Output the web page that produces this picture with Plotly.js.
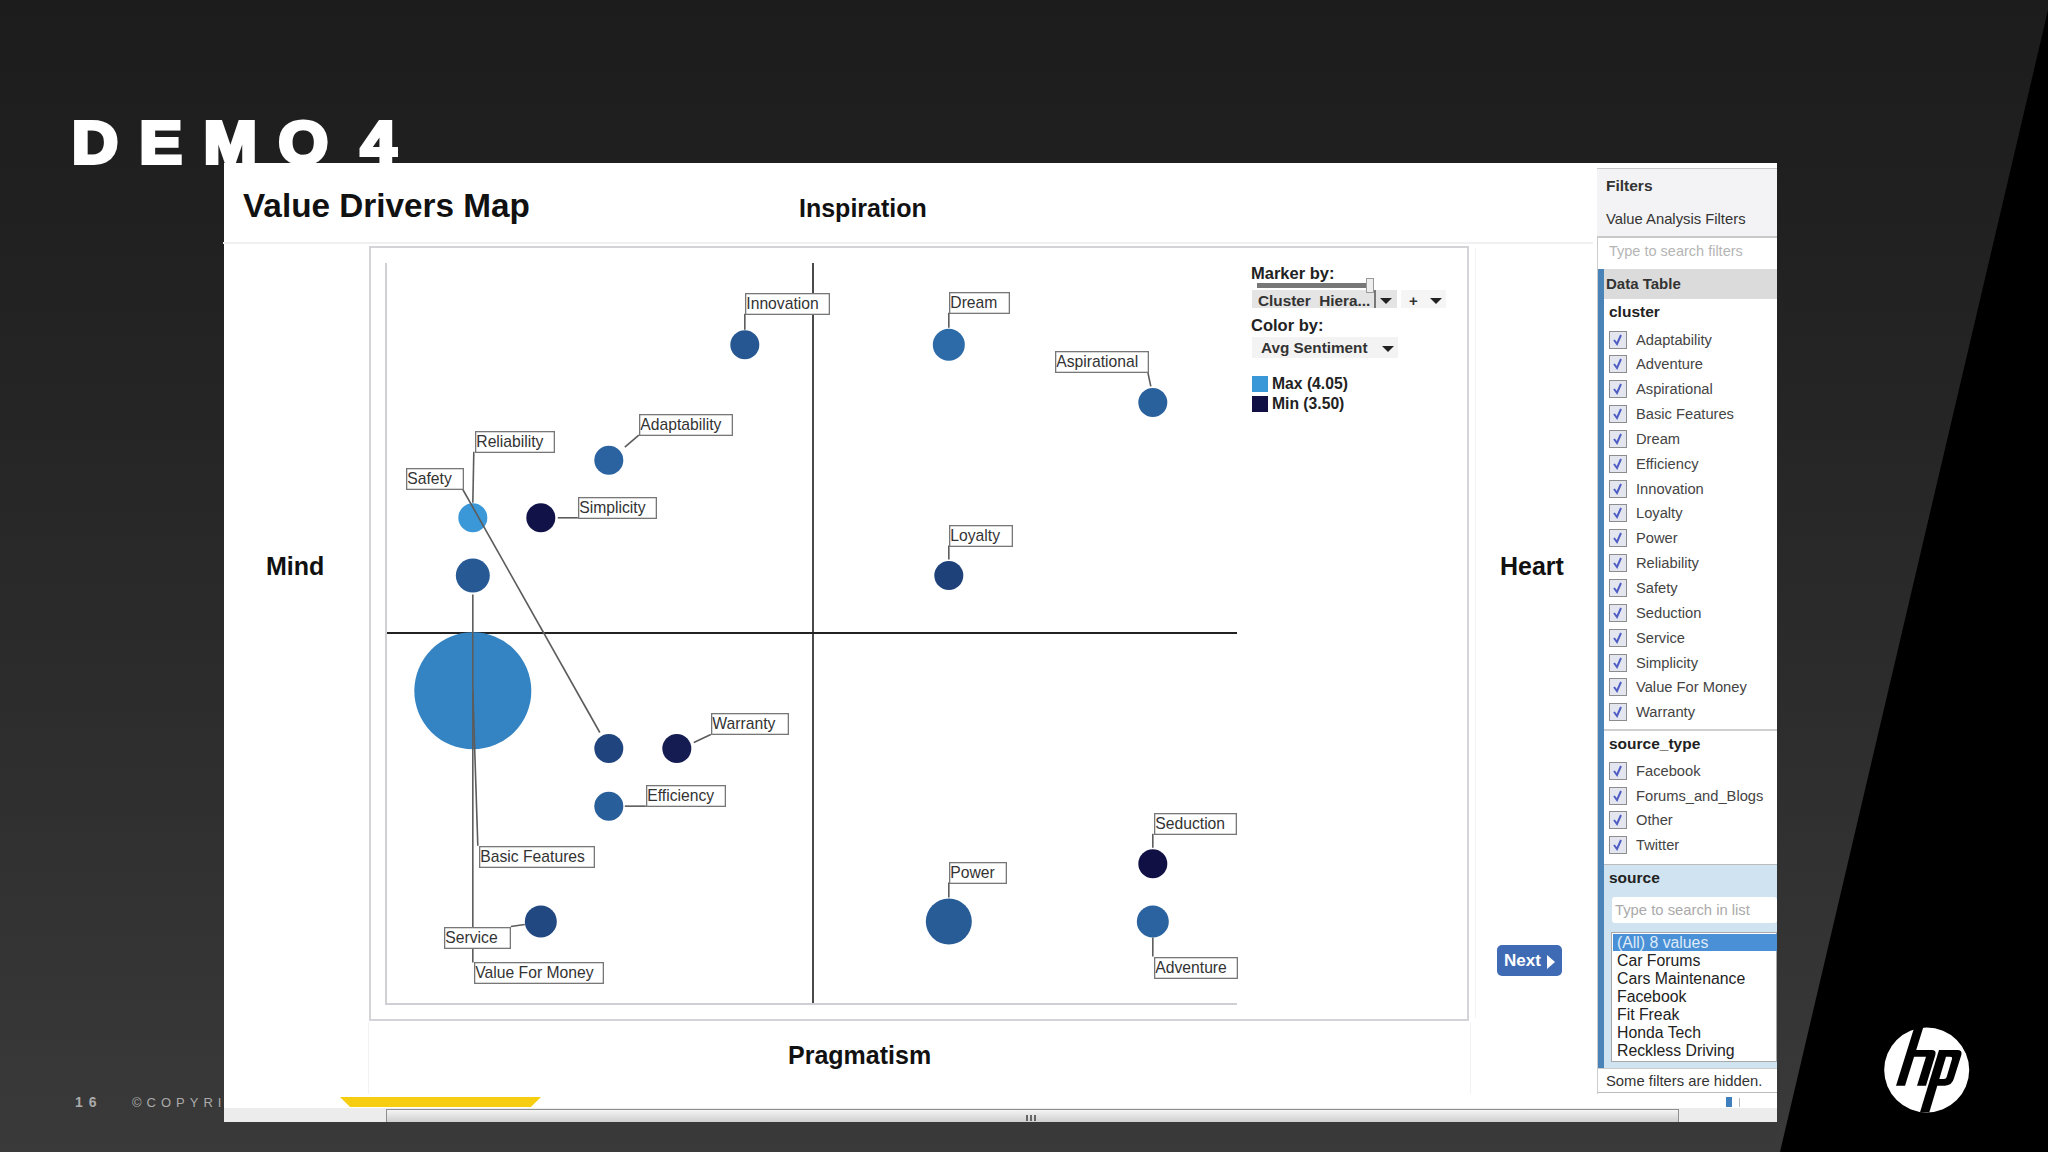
<!DOCTYPE html>
<html>
<head>
<meta charset="utf-8">
<script src="https://cdn.plot.ly/plotly-3.0.1.min.js"></script>
<style>
html,body{margin:0;padding:0;width:2048px;height:1152px;overflow:hidden;background:#262626;font-family:"Liberation Sans",Arial,sans-serif}
.abs{position:absolute}
.t{position:absolute;white-space:nowrap;line-height:1;transform:translateY(-50%);color:#222}
#bg{left:0;top:0;width:2048px;height:1152px;background:linear-gradient(#1c1c1c 0%,#222 25%,#2c2c2c 60%,#3a3a3a 100%)}
#wedge{left:0;top:0;width:2048px;height:1152px;background:#000;clip-path:polygon(2048px 10px,2048px 1152px,1780px 1152px)}
#win{left:223.5px;top:163px;width:1553.5px;height:959px;background:#fff}
#plot{left:0;top:0;width:2048px;height:1152px}
</style>
</head>
<body>
<div id="bg" class="abs"></div>
<div id="wedge" class="abs"></div>
<div class="t" style="left:72px;top:143px;font:bold 59px 'Liberation Sans';letter-spacing:20px;word-spacing:-26px;color:#fff;-webkit-text-stroke:4px #fff;transform:translateY(-50%) scaleX(1.08);transform-origin:left center">DEMO 4</div>
<div class="t" style="left:75px;top:1102px;font:bold 14px 'Liberation Sans';letter-spacing:6px;color:#aaa">16</div>
<div class="t" style="left:132px;top:1102px;font:13px 'Liberation Sans';letter-spacing:5px;color:#aaa">©COPYRIGHT</div>
<div id="win" class="abs"></div>
<div class="abs" style="left:223px;top:242px;width:1370px;height:2px;background:#f0f0f2"></div>
<div class="abs" style="left:369px;top:245.5px;width:1096px;height:771.5px;border:2px solid #d4d4d8;box-sizing:content-box"></div>
<div class="abs" style="left:368px;top:1022px;width:1px;height:72px;background:#f2f2f2"></div>
<div class="abs" style="left:1470px;top:1022px;width:1px;height:72px;background:#f2f2f2"></div>
<div class="abs" style="left:1475px;top:248px;width:1px;height:770px;background:#f2f2f2"></div>
<div id="plot" class="abs"></div>
<div id="chrome"></div>
<svg class="abs" style="left:0;top:0" width="2048" height="1152">
  <circle cx="1926.7" cy="1070" r="42.5" fill="#fff"/>
  <g transform="translate(1870,1015) scale(0.3333)" fill="#000">
    <path d="M135 30 L162 30 L105 212 L78 212Z"/>
    <path d="M125 105 L185 105 Q200 105 196 120 L168 212 L141 212 L168 125 L120 125Z"/>
    <path d="M207 105 L234 105 L178 292 L150 292Z"/>
    <path d="M225 105 L262 105 Q278 105 274 120 L252 190 Q246 212 225 212 L178 212 L184 192 L222 192 Q228 192 230 186 L246 132 Q248 125 240 125 L220 125Z"/>
  </g>
</svg>
<script>
// ---- chart data ----
const clusters = ["Adaptability","Adventure","Aspirational","Basic Features","Dream","Efficiency","Innovation","Loyalty","Power","Reliability","Safety","Seduction","Service","Simplicity","Value For Money","Warranty"];
const mindHeart = [-3,5,5,-5,2,-3,-1,2,2,-5,-3,5,-4,-4,-5,-2];
const pragmatismInspiration = [3,-5,4,-1,5,-3,5,1,-5,2,-2,-4,-5,2,1,-2];
const clusterSize = [29,32,29,117,32,29,29,29,46,29,29,29,32,29,34,29];
const avgSentiment = [3.84,3.84,3.83,3.97,3.87,3.82,3.79,3.70,3.81,4.05,3.71,3.50,3.73,3.51,3.80,3.55];
const sourceTypes = ["Facebook","Forums_and_Blogs","Other","Twitter"];
const sourceValues = ["(All) 8 values","Car Forums","Cars Maintenance","Facebook","Fit Freak","Honda Tech","Reckless Driving"];
const quadrantLabels = ["Inspiration","Mind","Heart","Pragmatism"];

// ---- label box placement, pixels relative to each marker: [dx, dy, width] ----
const boxOffset = {
  "Adaptability":[30,-46,94],"Adventure":[1,35,84],"Aspirational":[-98,-51,94],"Basic Features":[6,155,116],
  "Dream":[0,-53,61],"Efficiency":[37,-21,80],"Innovation":[0,-52,85],"Loyalty":[0,-50,64],"Power":[0,-60,58],
  "Reliability":[2,-87,80],"Safety":[-203,-280,58],"Seduction":[1,-51,83],"Service":[-97,5,67],"Simplicity":[37,-21,79],
  "Value For Money":[1,387,130],"Warranty":[34,-35,78]};
// ---- leader lines, pixels relative to each marker: [dx0, dy0, dx1, dy1] ----
const leaderOffset = {
  "Adaptability":[30,-25,16,-13],"Adventure":[0,16,0,35],"Aspirational":[-5,-30,-2,-16],"Basic Features":[5,155,0,0],
  "Dream":[0,-32,0,-17],"Efficiency":[16,0,37,0],"Innovation":[0,-31,0,-15],"Loyalty":[0,-30,0,-16],"Power":[0,-39,0,-24],
  "Reliability":[1,-66,0,-15],"Safety":[-146,-259,-9,-16],"Seduction":[0,-30,0,-16],"Service":[-30,5,-16,3],"Simplicity":[17,0,37,0],
  "Value For Money":[0,387,0,19],"Warranty":[34,-14,17,-6]};

const W = 2048, H = 1152, FONT = "Liberation Sans, Arial, sans-serif";
const shapes = clusters.map((c,i)=>{
  const o = leaderOffset[c];
  return {type:"line",layer:"above",xref:"x",yref:"y",xsizemode:"pixel",ysizemode:"pixel",
    xanchor:mindHeart[i],yanchor:pragmatismInspiration[i],
    x0:o[0],x1:o[2],y0:-o[1],y1:-o[3],line:{color:"#5c5c5c",width:1.6}};
});
const labelAnn = clusters.map((c,i)=>{
  const b = boxOffset[c];
  return {xref:"x",yref:"y",x:mindHeart[i],y:pragmatismInspiration[i],xanchor:"left",yanchor:"top",
    xshift:b[0],yshift:-b[1],text:c,showarrow:false,align:"left",width:b[2]-3,height:19,
    font:{family:FONT,size:15.7,color:"#333"},bgcolor:"#fff",bordercolor:"#777",borderwidth:1.3,borderpad:0};
});
const quadPos = [[863,208],[295,566],[1532,566],[859,1055]];
const quadAnn = quadrantLabels.map((q,i)=>({xref:"paper",yref:"paper",x:quadPos[i][0]/W,y:1-quadPos[i][1]/H,
  xanchor:"center",yanchor:"middle",showarrow:false,text:"<b>"+q+"</b>",font:{family:FONT,size:25,color:"#111"}}));

Plotly.newPlot("plot",[{
  type:"scatter",mode:"markers",x:mindHeart,y:pragmatismInspiration,text:clusters,hoverinfo:"text",
  marker:{size:clusterSize,sizemode:"diameter",color:avgSentiment,cmin:3.5,cmax:4.05,
    colorscale:[[0,"#101044"],[1,"#3a97d8"]],showscale:false,line:{width:0},opacity:1}
}],{
  width:W,height:H,margin:{l:0,r:0,t:0,b:0,pad:0},paper_bgcolor:"rgba(0,0,0,0)",plot_bgcolor:"rgba(0,0,0,0)",showlegend:false,
  title:{text:"<b>Value Drivers Map</b>",x:243/W,xanchor:"left",y:1-205.5/H,yanchor:"middle",font:{family:FONT,size:33.3,color:"#111"}},
  xaxis:{domain:[387/W,1237/W],range:[-6.262,6.238],showticklabels:false,ticks:"",showgrid:false,
    zeroline:true,zerolinecolor:"#4a4a4a",zerolinewidth:2,showline:true,linecolor:"#d0d0d4",linewidth:2},
  yaxis:{domain:[1-1003/H,1-263/H],range:[-6.413,6.418],showticklabels:false,ticks:"",showgrid:false,
    zeroline:true,zerolinecolor:"#222",zerolinewidth:1.6,showline:true,linecolor:"#d0d0d4",linewidth:2},
  shapes:shapes,annotations:labelAnn.concat(quadAnn)
},{displayModeBar:false,staticPlot:false});

// ---- surrounding application chrome ----
const ch = document.getElementById("chrome");
function box(x,y,w,h,css){const d=document.createElement("div");d.className="abs";
  d.style.cssText=`left:${x}px;top:${y}px;width:${w}px;height:${h}px;${css||""}`;ch.appendChild(d);return d;}
function txt(x,yc,s,css){const d=document.createElement("div");d.className="t";d.textContent=s;
  d.style.cssText=`left:${x}px;top:${yc}px;${css||""}`;ch.appendChild(d);return d;}
function tri(x,y,c){box(x,y,0,0,`border-left:6px solid transparent;border-right:6px solid transparent;border-top:6px solid ${c||"#222"}`);}
function check(x,yc){
  const d=box(x,yc-9,18,18,"box-sizing:border-box;border:1.5px solid #8d8d8d;background:#e3e6ef");
  d.innerHTML='<svg width="15" height="15" style="display:block"><path d="M4 8 L7 12 L11 3" fill="none" stroke="#4e5cc4" stroke-width="2"/></svg>';
}
// legend controls
txt(1251,273,"Marker by:","font:bold 16.5px 'Liberation Sans';color:#222");
box(1252,290,145,18,"background:#e4e4e4");
box(1257,283,113,5,"background:#777");
box(1366,278,8,15,"background:#eee;border:1px solid #999;box-sizing:border-box");
txt(1258,300.5,"Cluster  Hiera...","font:bold 15.3px 'Liberation Sans';white-space:pre;color:#333");
box(1374,290,1.5,18,"background:#777");
tri(1380,298);
box(1401,290,45,18,"background:#f5f5f5");
txt(1409,300,"+","font:bold 15px 'Liberation Sans';color:#333");
tri(1430,298);
txt(1251,325,"Color by:","font:bold 16.5px 'Liberation Sans';color:#222");
box(1252,337,146,21,"background:#f3f3f3");
txt(1261,348,"Avg Sentiment","font:bold 15.3px 'Liberation Sans';color:#333");
tri(1382,346);
box(1252,376,16,16,"background:#3a97d8");
box(1252,396,16,16,"background:#101044");
txt(1272,384,"Max (4.05)","font:bold 15.7px 'Liberation Sans';color:#222");
txt(1272,404,"Min (3.50)","font:bold 15.7px 'Liberation Sans';color:#222");
// next button
box(1497,945,65,31,"background:#3f6bb5;border-radius:5px");
txt(1504,961,"Next","font:bold 17px 'Liberation Sans';color:#fff");
box(1547,955,0,0,"border-top:7px solid transparent;border-bottom:7px solid transparent;border-left:8px solid #fff");
// filters panel
box(1597,168,180,926,"background:#fff;border-left:1px solid #ccc;box-sizing:border-box");
box(1597,168,180,69,"background:#f3f3f5;border-top:1.5px solid #c8c8c8;box-sizing:border-box");
txt(1606,186,"Filters","font:bold 15.5px 'Liberation Sans';color:#333");
txt(1606,219,"Value Analysis Filters","font:14.8px 'Liberation Sans';color:#333");
box(1597,236,180,2,"background:#c9c9c9");
txt(1609,251,"Type to search filters","font:14.5px 'Liberation Sans';color:#b5b5b5");
box(1598,269,179,30,"background:#dbdbdb");
box(1598,269,6,799,"background:#4a83b8");
txt(1606,282.5,"Data Table","font:bold 15px 'Liberation Sans';color:#333");
txt(1609,312,"cluster","font:bold 15.5px 'Liberation Sans';color:#222");
clusters.forEach((c,i)=>{const y=339.5+i*24.85;check(1609,y);txt(1636,y,c,"font:14.7px 'Liberation Sans';color:#444");});
box(1604,729,173,1.5,"background:#cfcfcf");
txt(1609,744,"source_type","font:bold 15.5px 'Liberation Sans';color:#222");
sourceTypes.forEach((c,i)=>{const y=771+i*24.7;check(1609,y);txt(1636,y,c,"font:14.7px 'Liberation Sans';color:#444");});
box(1604,864,173,204,"background:#cfe3f0;border-top:1.5px solid #bbb;box-sizing:border-box");
txt(1609,877.5,"source","font:bold 15.5px 'Liberation Sans';color:#222");
box(1612,897,165,26,"background:#fff;border-radius:3px");
txt(1615,910,"Type to search in list","font:14.8px 'Liberation Sans';color:#aaa");
box(1611,932,166,130,"background:#fff;border:1px solid #a8a8a8;box-sizing:border-box");
box(1613,934,164,17,"background:#4a90d6");
sourceValues.forEach((c,i)=>{txt(1617,943+i*18,c,`font:15.8px 'Liberation Sans';color:${i==0?"#dfeaf8":"#222"}`);});
box(1598,1068,179,25,"background:#fff;border-top:1px solid #ccc;border-bottom:1px solid #bbb;box-sizing:border-box");
txt(1606,1081,"Some filters are hidden.","font:14.8px 'Liberation Sans';color:#333");
box(1726,1097,6,10,"background:#3f7fbd");
box(1739,1098,1,9,"background:#bbb");
// bottom scrollbar and yellow tab
const tab=box(340,1097,201,10,"background:#f6cd10;clip-path:polygon(0 0,100% 0,95% 100%,5% 100%)");
box(223.5,1108,1553.5,14,"background:#ececec");
box(386,1108.5,1292.5,13.5,"background:linear-gradient(#f4f4f4,#cfcfcf);border:1px solid #8f8f8f;border-bottom:none;box-sizing:border-box");
box(1026,1115,2,6,"background:#666");box(1030,1115,2,6,"background:#666");box(1034,1115,2,6,"background:#666");
</script>
</body>
</html>
